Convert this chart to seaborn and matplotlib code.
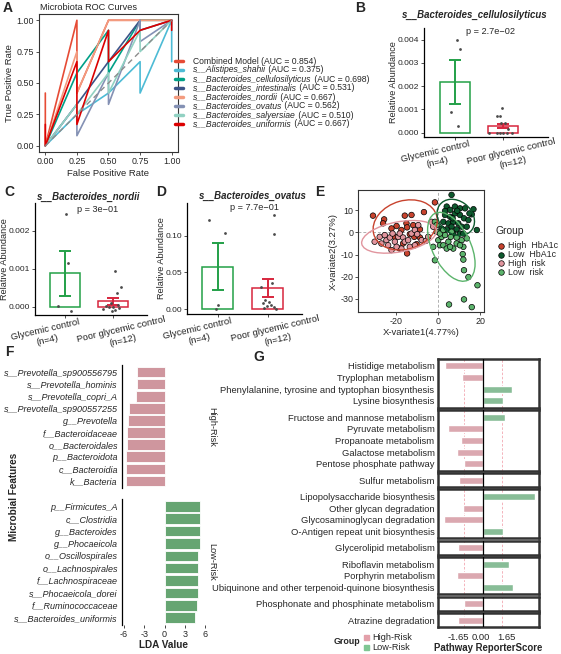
import matplotlib
matplotlib.use("Agg")
import matplotlib.pyplot as plt
import matplotlib.transforms as mtransforms
import numpy as np
import pandas as pd
import seaborn as sns
from matplotlib.lines import Line2D
from matplotlib.patches import Ellipse, Rectangle

# ---------------- data ----------------
# A: ROC curves (tpr high / low at each fpr step, as drawn by geom_line)
fpr_steps = [0.0, 0.25, 0.5, 0.75, 1.0]
roc_names = ['Combined Model', 's__Alistipes_shahii', 's__Bacteroides_cellulosilyticus',
             's__Bacteroides_intestinalis', 's__Bacteroides_nordii', 's__Bacteroides_ovatus',
             's__Bacteroides_salyersiae', 's__Bacteroides_uniformis']
roc_auc = ['0.854', '0.375', '0.698', '0.531', '0.667', '0.562', '0.510', '0.667']
roc_colors = ['#E64B35', '#4DBBD5', '#00A087', '#3C5488', '#F39B7F', '#8491B4', '#91D1C2', '#DC0000']
roc_hi = [[0.42, 1.00, 1.00, 1.00, 1.00],
          [0.00, 0.25, 0.42, 0.67, 1.00],
          [0.00, 0.58, 0.92, 1.00, 1.00],
          [0.00, 0.33, 0.67, 1.00, 1.00],
          [0.00, 0.75, 1.00, 1.00, 1.00],
          [0.00, 0.33, 0.58, 1.00, 1.00],
          [0.00, 0.33, 0.58, 0.92, 1.00],
          [0.17, 0.67, 0.92, 0.92, 1.00]]
roc_lo = [[0.00, 0.42, 1.00, 1.00, 1.00],
          [0.00, 0.25, 0.42, 0.42, 0.67],
          [0.00, 0.58, 0.58, 1.00, 1.00],
          [0.00, 0.33, 0.67, 0.92, 1.00],
          [0.00, 0.42, 1.00, 1.00, 1.00],
          [0.00, 0.08, 0.33, 0.83, 1.00],
          [0.00, 0.25, 0.42, 0.75, 1.00],
          [0.00, 0.17, 0.67, 0.92, 0.92]]

# B, C, D: relative abundance per sample (jitter offsets)
groups = ['Glycemic control\n(n=4)', 'Poor glycemic control\n(n=12)']
b_green = [0.00398, 0.00358, 0.00088, 0.00029]
b_green_dx = [0.04, 0.10, -0.09, 0.07]
b_red = [0.00105, 0.00072, 0.00070, 0.00042, 0.00040, 0.00015, 0, 0, 0, 0, 0, 0]
b_red_dx = [-0.01, -0.13, -0.06, -0.03, 0.04, 0.10, -0.29, -0.13, -0.06, 0.01, 0.08, 0.18]
c_green = [0.00244, 0.00116, 0.00003, -0.0001]
c_green_dx = [0.03, 0.07, -0.14, 0.12]
c_red = [0.00094, 0.00052, 0.00037, 0.0001, 0.00005, 0.00003, 0.0, 0.0, -0.00003, -0.00005, -0.00008, -0.0001]
c_red_dx = [0.04, 0.16, 0.08, -0.05, 0.10, -0.15, 0.0, -0.08, 0.12, -0.20, 0.05, -0.02]
d_green = [0.122, 0.1045, 0.0055, 0.0]
d_green_dx = [-0.17, 0.14, 0.0, -0.03]
d_red = [0.128, 0.103, 0.030, 0.035, 0.012, 0.010, 0.008, 0.006, 0.004, 0.003, 0.001, 0.0]
d_red_dx = [0.13, 0.13, -0.13, 0.09, -0.05, 0.02, -0.10, 0.06, -0.02, 0.12, -0.08, 0.16]

# E: PLS-DA scores
e_groups = ['High  HbA1c', 'Low  HbA1c', 'High  risk', 'Low  risk']
e_colors = ['#C8432E', '#0D5A2E', '#E1959E', '#5CB46C']
e_high_hba1c_x = [-31, -25.7, -26.2, -15.9, -12.7, -6.8, -1.6, -15.1, -11.9, -14.8, -17.5, -8.7,
                  -13.5, -11.4, -8.7, -20.6, -18.3, -14.8, -16.7, -19.8, -22.2, -10.3]
e_high_hba1c_y = [7.6, 5.9, 4.1, 7.6, 7.9, 9.2, 13.6, 4.1, 3.3, 2.3, 1.1, 1.4,
                  -0.8, -2.0, -2.3, -2.0, -7.3, -9.5, -5.0, 2.9, 1.8, -5.3]
e_high_risk_x = [-30.2, -27.8, -27, -24.6, -23, -23.8, -22.2, -20.6, -19, -18.3, -16.7, -15.9, -14.3,
                 -12.7, -11.1, -9.5, -10, -7.9, -5.9, -4.8, -3.2, -2.4, -13.5, -17.5, -19.8, -25.4,
                 -21.7, -11.1]
e_high_risk_y = [-4.2, -2.0, -5.0, -3.5, -2.3, -5.8, -8.0, -4.2, -2.0, -0.5, -2.3, -4.2, -3.5,
                 -0.5, 1.1, 3.3, -0.8, -3.5, -3.8, -2.0, 4.8, 2.6, -6.5, -7.3, -6.5, -1.2,
                 -0.5, -5.8]
e_low_hba1c_x = [6.3, 4, 5.6, 7.9, 10.3, 12.7, 16.7, 15.9, 18.3, 3.2, 5.6, 7.9, 10.3, 12.2, 14.3,
                 2.4, 4.8, 7.1, 9.5, 11.1, 13.5, 6.3, 8.7, 4, 1.6, 10.3, 11.9, 7.1, 3.2, 9, 6.8, 14.8]
e_low_hba1c_y = [17, 11.7, 10.2, 11.7, 10.9, 10.9, 10.5, 8.2, 1.1, 7.9, 7.1, 8.6, 7.9, 6.4, 5.6,
                 4.8, 4.1, 4.8, 4.1, 2.6, 2.6, 2.6, 1.4, 1.4, 1.8, -0.5, -0.5, -0.5, 9.7, 9.8, 6.4, 8.6]
e_low_risk_x = [-1.6, -0.8, 0, 0.8, 2.4, 4.8, 4, 7.1, 8.7, 11.1, 11.9, 11.6, 11.9, -1.6, 12.2, 14.3,
                18.6, 5.1, 12.2, 15.9, 1.6, 3.2, 0.8, 5.9, 8.7, 10.3, 5.6, 13.5, -0.8, 2.4, 6.3, -2.4]
e_low_risk_y = [4.8, 0.3, -3.5, -5.8, -5.8, -4.2, -7.3, -7.3, -5.0, -3.5, -6.5, -9.8, -12.3, -12.6,
                -17.1, -20.2, -23.9, -32.6, -30.3, -33.8, -2.0, -1.2, -0.5, -2.0, -2.3, -5.8, -6.5,
                -2.7, 3.3, 1.1, 0.3, -6.5]
# ellipse: centre x, centre y, width, height, angle
e_ell_x = [-15.7, 8.3, -18.6, 6.2]
e_ell_y = [3.4, 6.8, -2.0, -6.5]
e_ell_w = [31, 19, 36, 34]
e_ell_h = [22, 15, 13.6, 18]
e_ell_ang = [15, -35, 10, -62]

# F: LEfSe LDA
f_high_names = ['s__Prevotella_sp900556795', 's__Prevotella_hominis', 's__Prevotella_copri_A',
                's__Prevotella_sp900557255', 'g__Prevotella', 'f__Bacteroidaceae', 'o__Bacteroidales',
                'p__Bacteroidota', 'c__Bacteroidia', 'k__Bacteria']
f_high_lda = [-4.1, -4.15, -4.3, -5.2, -5.4, -5.6, -5.6, -5.65, -5.65, -5.7]
f_low_names = ['p__Firmicutes_A', 'c__Clostridia', 'g__Bacteroides', 'g__Phocaeicola',
               'o__Oscillospirales', 'o__Lachnospirales', 'f__Lachnospiraceae', 's__Phocaeicola_dorei',
               'f__Ruminococcaceae', 's__Bacteroides_uniformis']
f_low_lda = [5.3, 5.3, 5.2, 5.2, 5.0, 5.0, 5.0, 4.9, 4.75, 4.5]

# G: pathway reporter score
g_sizes = [4, 5, 1, 4, 1, 3, 1, 1]
g_pathways = ['Histidige metabolism', 'Tryplophan metabolism',
              'Phenylalanine, tyrosine and typtophan biosynthesis', 'Lysine biosynthesis',
              'Fructose and mannose metabolism', 'Pyruvate metabolism', 'Propanoate metabolism',
              'Galactose metabolism', 'Pentose phosphate pathway', 'Sulfur metabolism',
              'Lipopolysaccharide biosynthesis', 'Other glycan degradation',
              'Glycosaminoglycan degradation', 'O-Antigen repeat unit biosynthesis',
              'Glycerolipid metabolism', 'Riboflavin metabolism', 'Porphyrin metabolism',
              'Ubiquinone and other terpenoid-quinone biosynthesis',
              'Phosphonate and phosphinate metabolism', 'Atrazine degradation']
g_scores = [-3.3, -1.8, 2.55, 1.77, 1.9, -3.07, -1.91, -2.29, -1.62, -2.09, 4.52, -1.77, -3.39,
            1.77, -2.17, 2.29, -2.23, 2.64, -1.62, -2.14]

# ---------------- style ----------------
sns.set_style('white')
plt.rcParams['font.family'] = ['Liberation Sans', 'DejaVu Sans']
plt.rcParams['axes.unicode_minus'] = False

W, H = 561, 654
FS = 6.4
fig = plt.figure(figsize=(W / 100, H / 100), dpi=100)
ren = fig.canvas.get_renderer()


def px_axes(l, t, r, b):
    return fig.add_axes([l / W, 1 - b / H, (r - l) / W, (b - t) / H])


def ftext(x, y, s, **kw):
    return fig.text(x / W, 1 - y / H, s, **kw)


def ticks(ax, size=FS):
    ax.tick_params(labelsize=size, length=2, width=0.6, pad=1.5, color='#333333',
                   left=True, bottom=True)


for lab, x, y in [('A', 8, 8), ('B', 360, 8), ('C', 9, 192), ('D', 161, 192),
                  ('E', 320, 192), ('F', 9, 352), ('G', 259, 357)]:
    ftext(x, y, lab, fontsize=10, fontweight='bold', ha='center', va='center')

# ---------------- A ----------------
axA = px_axes(39, 14, 178, 152)
rows = []
for name, hi, lo in zip(roc_names, roc_hi, roc_lo):
    for f, h, l in zip(fpr_steps, hi, lo):
        rows.append((name, f, h))
        rows.append((name, f, l))
roc_df = pd.DataFrame(rows, columns=['model', 'fpr', 'tpr'])
sns.lineplot(data=roc_df, x='fpr', y='tpr', hue='model', palette=dict(zip(roc_names, roc_colors)),
             estimator=None, sort=False, lw=1.2, legend=False, ax=axA)
axA.plot([0, 1], [0, 1], ls=(0, (4, 3)), color='#8c8c8c', lw=1)
axA.set_xlim(-0.05, 1.05)
axA.set_ylim(-0.05, 1.05)
axA.set_xticks([0, 0.25, 0.5, 0.75, 1])
axA.set_xticklabels(['0.00', '0.25', '0.50', '0.75', '1.00'])
axA.set_yticks([0, 0.25, 0.5, 0.75, 1])
axA.set_yticklabels(['0.00', '0.25', '0.50', '0.75', '1.00'])
ticks(axA)
for s in axA.spines.values():
    s.set_color('#333333')
    s.set_linewidth(0.8)
axA.set_xlabel('False Positive Rate', fontsize=6.8, labelpad=2)
axA.set_ylabel('True Positive Rate', fontsize=6.8, labelpad=2)
ftext(40, 8, 'Microbiota ROC Curves', fontsize=6.6, ha='left', va='center')

# legend drawn by hand: italic species name + upright AUC text
for i, (n, a, c) in enumerate(zip(roc_names, roc_auc, roc_colors)):
    y = 61 + 9 * i
    fig.add_artist(Line2D([175 / W, 183 / W], [1 - y / H] * 2, color=c, lw=2.5))
    if n.startswith('s__'):
        t = ftext(193, y, n, fontsize=6.2, fontstyle='italic', va='center')
        x1 = t.get_window_extent(ren).x1
        fig.text(x1 / W, 1 - y / H, ' (AUC = ' + a + ')', fontsize=6.2, va='center')
    else:
        ftext(193, y, n + ' (AUC = ' + a + ')', fontsize=6.2, va='center')

# ---------------- B, C, D ----------------
bar_colors = ['#23A047', '#D7263D']


def abundance(ax, green, gdx, red, rdx, xlim, ylim, yt, ytl, title, title_xy, ptxt, p_xy, ylab_x):
    df = pd.DataFrame({'group': [groups[0]] * len(green) + [groups[1]] * len(red),
                       'val': green + red})
    sns.barplot(data=df, x='group', y='val', hue='group', palette=dict(zip(groups, bar_colors)),
                fill=False, errorbar=None, width=0.62, linewidth=1.1, legend=False, ax=ax)
    for i, (vals, dx) in enumerate([(green, gdx), (red, rdx)]):
        v = np.array(vals)
        ax.errorbar(i, v.mean(), yerr=v.std(ddof=1) / np.sqrt(len(v)), color=bar_colors[i],
                    lw=1.4, capsize=4.5, capthick=1.4, zorder=4)
        ax.scatter(i + np.array(dx), v, s=4, color='#4a4a4a', lw=0, zorder=5)
    ax.set_xlim(*xlim)
    ax.set_ylim(*ylim)
    ax.set_yticks(yt)
    ax.set_yticklabels(ytl)
    ax.set_xlabel('')
    ax.set_ylabel('')
    sns.despine(ax=ax)
    for s in ['left', 'bottom']:
        ax.spines[s].set_color('black')
        ax.spines[s].set_linewidth(0.9)
    ticks(ax, 6.1)
    ax.set_xticks([0, 1])
    ax.set_xticklabels([])
    # rotated group labels, placed as in the reference
    for i, dx in zip([0, 1], [-19, 9]):
        off = mtransforms.ScaledTranslation(dx / 100, -20 / 100, fig.dpi_scale_trans)
        ax.text(i, 0, groups[i], transform=ax.get_xaxis_transform() + off, rotation=13,
                rotation_mode='anchor', ha='center', va='center', multialignment='center',
                fontsize=6.8)
    bb = ax.get_position()
    ftext(ylab_x, (1 - (bb.y0 + bb.y1) / 2) * H, 'Relative Abundance', fontsize=6.6,
          rotation=90, ha='center', va='center')
    ftext(*title_xy, title, fontsize=6.9, fontweight='bold', fontstyle='italic',
          ha='center', va='center')
    ftext(*p_xy, ptxt, fontsize=6.6, ha='center', va='center')


axB = px_axes(424, 28, 548, 137)
abundance(axB, b_green, b_green_dx, b_red, b_red_dx, (-0.646, 1.94), (-0.000185, 0.0045),
          [0, 0.001, 0.002, 0.003, 0.004], ['0.000', '0.001', '0.002', '0.003', '0.004'],
          's__Bacteroides_cellulosilyticus', (475, 15), 'p = 2.7e\u221202', (490, 32), 394)
axC = px_axes(35, 203, 147, 315)
abundance(axC, c_green, c_green_dx, c_red, c_red_dx, (-0.625, 1.71), (-0.000218, 0.00273),
          [0, 0.001, 0.002], ['0.000', '0.001', '0.002'], 's__Bacteroides_nordii', (89, 197),
          'p = 3e\u221201', (98, 209), 4.8)
axD = px_axes(187, 203, 302, 314)
abundance(axD, d_green, d_green_dx, d_red, d_red_dx, (-0.61, 1.69), (-0.0068, 0.145),
          [0, 0.05, 0.10], ['0.00', '0.05', '0.10'], 's__Bacteroides_ovatus', (253, 196),
          'p = 7.7e\u221201', (255, 208), 161.5)

# ---------------- E ----------------
axE = px_axes(358, 190, 484, 312)
e_df = pd.DataFrame({
    'x': e_high_hba1c_x + e_low_hba1c_x + e_high_risk_x + e_low_risk_x,
    'y': e_high_hba1c_y + e_low_hba1c_y + e_high_risk_y + e_low_risk_y,
    'Group': [e_groups[0]] * len(e_high_hba1c_x) + [e_groups[1]] * len(e_low_hba1c_x)
             + [e_groups[2]] * len(e_high_risk_x) + [e_groups[3]] * len(e_low_risk_x)})
axE.axhline(0, color='#b0b0b0', ls=(0, (3, 2)), lw=0.7, zorder=0)
axE.axvline(0, color='#b0b0b0', ls=(0, (3, 2)), lw=0.7, zorder=0)
sns.scatterplot(data=e_df, x='x', y='y', hue='Group', palette=dict(zip(e_groups, e_colors)),
                s=16, edgecolor='black', linewidth=0.5, legend=False, ax=axE, zorder=3)
for cx, cy, w, h, a, c in zip(e_ell_x, e_ell_y, e_ell_w, e_ell_h, e_ell_ang, e_colors):
    axE.add_patch(Ellipse((cx, cy), w, h, angle=a, fill=False, edgecolor=c, lw=1.0, zorder=4))
axE.set_xlim(-38.1, 21.7)
axE.set_ylim(-36, 19.2)
axE.set_xticks([-20, 0, 20])
axE.set_yticks([10, 0, -10, -20, -30])
ticks(axE)
for s in axE.spines.values():
    s.set_color('#333333')
    s.set_linewidth(0.8)
axE.set_xlabel('X-variate1(4.77%)', fontsize=6.8, labelpad=1.5)
axE.set_ylabel('X-variate2(3.27%)', fontsize=6.8, labelpad=1.5)
ftext(496, 231, 'Group', fontsize=7.4, ha='left', va='center')
for i, (g, c) in enumerate(zip(e_groups, e_colors)):
    y = 246 + 8.7 * i
    fig.add_artist(Line2D([500.5 / W], [1 - y / H], marker='o', ls='', markerfacecolor=c,
                          markeredgecolor='black', markeredgewidth=0.5, markersize=4))
    ftext(508, y, g, fontsize=6.4, ha='left', va='center')

# ---------------- F ----------------
f_pink = '#D98C97'
f_green = '#5CAF6C'
for names, vals, col, (t, b), strip in [(f_high_names, f_high_lda, f_pink, (365, 488), 'High-Risk'),
                                        (f_low_names, f_low_lda, f_green, (499, 625), 'Low-Risk')]:
    ax = px_axes(122, t, 205, b)
    sns.barplot(x=vals, y=names, color=col, orient='h', width=0.86, edgecolor='white',
                linewidth=0.6, ax=ax)
    ax.set_xlim(-6.3, 5.9)
    ax.set_ylim(len(names) - 0.4, -0.6)
    ax.tick_params(axis='y', length=0, pad=3, labelsize=6.5)
    for tl in ax.get_yticklabels():
        tl.set_fontstyle('italic')
    for s in ['top', 'right', 'bottom']:
        ax.spines[s].set_visible(False)
    ax.spines['left'].set_color('black')
    ax.spines['left'].set_linewidth(0.9)
    ax.text(1.08, 0.5, strip, transform=ax.transAxes, rotation=-90, ha='center', va='center',
            fontsize=6.6)
    if strip == 'Low-Risk':
        ax.set_xticks([-6, -3, 0, 3, 6])
        ax.tick_params(axis='x', labelsize=6.5, length=2, width=0.6, pad=1.5, bottom=True)
        ax.set_xlabel('LDA Value', fontsize=7.2, fontweight='bold', labelpad=1)
    else:
        ax.set_xticks([])
ftext(14, 497, 'Microbial Features', fontsize=7.2, fontweight='bold', rotation=90,
      ha='center', va='center')

# ---------------- G ----------------
g_pink = '#E3A0AA'
g_green = '#7FC693'
gap = 2.4
unit = (627 - 359 - gap * (len(g_sizes) - 1)) / (sum(g_sizes) + 0.2 * len(g_sizes))
top = 359.0
start = 0
for k, n in enumerate(g_sizes):
    h = unit * (n + 0.2)
    ax = px_axes(438, top, 539, top + h)
    names = g_pathways[start:start + n]
    vals = g_scores[start:start + n]
    cols = ['High-Risk' if v < 0 else 'Low-Risk' for v in vals]
    ax.axvline(-1.65, color='#F2A7B1', ls=(0, (3, 2)), lw=0.6, zorder=0)
    ax.axvline(1.65, color='#F2A7B1', ls=(0, (3, 2)), lw=0.6, zorder=0)
    sns.barplot(x=vals, y=names, hue=cols, palette={'High-Risk': g_pink, 'Low-Risk': g_green},
                orient='h', width=0.6, dodge=False, legend=False, ax=ax)
    ax.axvline(0, color='black', lw=0.9, zorder=3)
    ax.set_xlim(-3.9, 4.87)
    ax.set_ylim(n - 1 + 0.6, -0.6)
    ax.tick_params(axis='y', length=0, pad=2.5, labelsize=6.75)
    ax.set_ylabel('')
    for s in ax.spines.values():
        s.set_color('#333333')
        s.set_linewidth(1.8)
    if k == len(g_sizes) - 1:
        ax.set_xticks([-1.65, 0, 1.65])
        ax.set_xticklabels(['-1.65', '0.00', '1.65'])
        ax.tick_params(axis='x', labelsize=6.8, length=0, pad=4)
        for tl, dx in zip(ax.get_xticklabels(), [-5.5, -2, 5]):
            tl.set_transform(tl.get_transform() +
                             mtransforms.ScaledTranslation(dx / 100, 0, fig.dpi_scale_trans))
        ax.set_xlabel('Pathway ReporterScore', fontsize=6.9, fontweight='bold', labelpad=1)
    else:
        ax.set_xticks([])
    top += h + gap
    start += n

ftext(347, 642, 'Group', fontsize=6.4, fontweight='bold', ha='center', va='center')
for y, c, lab in [(637, g_pink, 'High-Risk'), (647, g_green, 'Low-Risk')]:
    fig.add_artist(Rectangle((364 / W, 1 - (y + 2.5) / H), 4.8 / W, 5 / H, color=c))
    ftext(372.5, y, lab, fontsize=6.6, ha='left', va='center')

fig.savefig('out.png', dpi=100)
